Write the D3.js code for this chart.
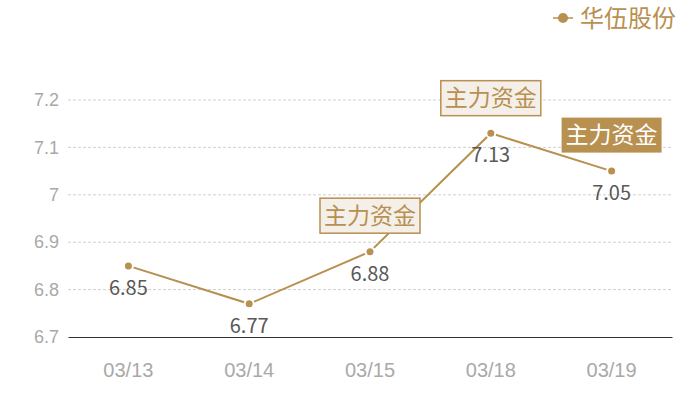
<!DOCTYPE html>
<html>
<head>
<meta charset="utf-8">
<script src="https://cdn.jsdelivr.net/npm/d3@7"></script>
<style>
  body { margin: 0; background: #fff; }
  svg { display: block; font-family: "Noto Sans CJK SC", "Noto Sans", sans-serif; }
</style>
</head>
<body>
<svg width="700" height="400"></svg>
<script>
const dates = ["03/13", "03/14", "03/15", "03/18", "03/19"];
const prices = [6.85, 6.77, 6.88, 7.13, 7.05];
const yTicks = [6.7, 6.8, 6.9, 7.0, 7.1, 7.2];
const seriesName = "华伍股份";
// annotation boxes: which date, and whether filled
const notes = [
  {date: "03/15", label: "主力资金", filled: false, dy: -36},
  {date: "03/18", label: "主力资金", filled: false, dy: -35},
  {date: "03/19", label: "主力资金", filled: true,  dy: -36}
];

const gold = "#b8904f";
const margin = {top: 100, right: 28, bottom: 63, left: 68},
      width = 700 - margin.left - margin.right,
      height = 400 - margin.top - margin.bottom;

const svg = d3.select("svg")
  .append("g")
  .attr("transform", `translate(${margin.left},${margin.top})`);

const x = d3.scaleBand()
  .domain(dates)
  .range([0, width]);

const y = d3.scaleLinear()
  .domain([6.7, 7.2])
  .range([height, 0]);

// gridlines
svg.append("g")
  .selectAll("line")
  .data(yTicks.slice(1))
  .enter().append("line")
  .attr("x1", 0).attr("x2", width)
  .attr("y1", d => y(d)).attr("y2", d => y(d))
  .attr("stroke", "#d0d0d0")
  .attr("stroke-dasharray", "3,2");

// y axis
const yAxis = svg.append("g")
  .call(d3.axisLeft(y).tickValues(yTicks).tickFormat(d3.format("~g")).tickSize(0).tickPadding(9));
yAxis.select(".domain").remove();
yAxis.selectAll("text")
  .attr("fill", "#a9a9a9")
  .style("font-size", "18px");

// x axis
const xAxis = svg.append("g")
  .attr("transform", `translate(0,${height})`)
  .call(d3.axisBottom(x).tickSize(0).tickPadding(26));
xAxis.select(".domain").attr("stroke", "#333");
xAxis.selectAll("text")
  .attr("fill", "#a9a9a9")
  .style("font-size", "20px");

const cx = d => x(d) + x.bandwidth() / 2;

// line
const line = d3.line()
  .x((d, i) => cx(dates[i]))
  .y(d => y(d));

svg.append("path")
  .datum(prices)
  .attr("fill", "none")
  .attr("stroke", gold)
  .attr("stroke-width", 2)
  .attr("d", line);

// points
svg.selectAll(".dot")
  .data(prices)
  .enter().append("circle")
  .attr("class", "dot")
  .attr("cx", (d, i) => cx(dates[i]))
  .attr("cy", d => y(d))
  .attr("r", 4.5)
  .attr("fill", gold)
  .attr("stroke", "#fff")
  .attr("stroke-width", 2);

// value labels
svg.selectAll(".val")
  .data(prices)
  .enter().append("text")
  .attr("class", "val")
  .attr("x", (d, i) => cx(dates[i]))
  .attr("y", d => y(d) + 29)
  .attr("text-anchor", "middle")
  .attr("fill", "#595959")
  .style("font-size", "20px")
  .text(d => d3.format("~g")(d));

// annotation boxes
notes.forEach(n => {
  const i = dates.indexOf(n.date);
  const px = cx(n.date), py = y(prices[i]) + n.dy;
  const g = svg.append("g").attr("transform", `translate(${px},${py})`);
  g.append("rect")
    .attr("x", -50).attr("y", -17.5)
    .attr("width", 100).attr("height", 35)
    .attr("fill", n.filled ? gold : "#f4efe8")
    .attr("stroke", n.filled ? "none" : gold)
    .attr("stroke-width", 1.5);
  g.append("text")
    .attr("text-anchor", "middle")
    .attr("dy", "0.36em")
    .attr("fill", n.filled ? "#fff" : gold)
    .style("font-size", "23px")
    .text(n.label);
});

// legend
const legend = d3.select("svg").append("g")
  .attr("transform", "translate(553,18)");
legend.append("line")
  .attr("x1", 0).attr("x2", 20)
  .attr("stroke", gold).attr("stroke-width", 1.5);
legend.append("circle")
  .attr("cx", 10).attr("r", 5)
  .attr("fill", gold);
legend.append("text")
  .attr("x", 27).attr("dy", "0.36em")
  .attr("fill", gold)
  .style("font-size", "24px")
  .text(seriesName);
</script>
</body>
</html>
